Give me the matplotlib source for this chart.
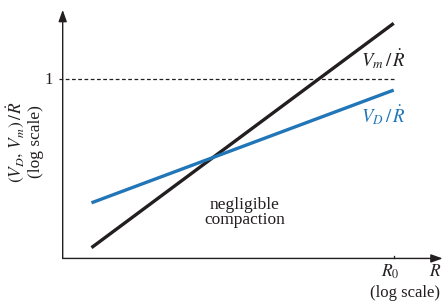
import matplotlib
matplotlib.use("Agg")
import matplotlib.pyplot as plt

plt.rcParams['font.family'] = ['Liberation Serif', 'DejaVu Serif']
plt.rcParams['mathtext.fontset'] = 'stix'

# log R (axis origin = 0, R0 = 1) and log(V/Rdot) (1 -> 0)
logR = [0.087, 1.0]
log_Vm = [-0.94, 0.31]
log_VD = [-0.69, -0.062]
ref_level = 0.0          # V/Rdot = 1
R0 = 1.0

BLACK = '#231f20'
BLUE = '#2176b8'

fig = plt.figure(figsize=(4.46, 3.06), dpi=100)
ax = fig.add_axes([0, 0, 1, 1])
ax.set_xlim(-0.1894, 1.158)
ax.set_ylim(-1.265, 0.440)
ax.axis('off')

# axes with arrows
ax.annotate('', xy=(1.148, -1.0), xytext=(0, -1.0),
            arrowprops=dict(arrowstyle='-|>,head_length=0.7,head_width=0.25', color=BLACK, lw=1.0, shrinkA=0, shrinkB=0))
ax.annotate('', xy=(0, 0.385), xytext=(0, -1.0),
            arrowprops=dict(arrowstyle='-|>,head_length=0.7,head_width=0.25', color=BLACK, lw=1.0, shrinkA=0, shrinkB=0))

# dashed reference
ax.plot([-0.012, R0], [ref_level, ref_level], ls=(0, (3, 2)), color=BLACK, lw=0.9)
# R0 tick
ax.plot([R0, R0], [-1.0, -0.985], color=BLACK, lw=0.9)

ax.plot(logR, log_Vm, color=BLACK, lw=2.4, solid_capstyle='butt')
ax.plot(logR, log_VD, color=BLUE, lw=2.4, solid_capstyle='butt')

ax.text(-0.03, -0.008, '1', ha='right', va='center', fontsize=12, color=BLACK)
ax.text(0.97, 0.112, r'$V_m\,/\,\dot{R}$', ha='center', va='center', fontsize=13.5, color=BLACK)
ax.text(0.97, -0.200, r'$V_D\,/\,\dot{R}$', ha='center', va='center', fontsize=13.5, color=BLUE)
ax.text(0.55, -0.745, 'negligible\ncompaction', ha='center', va='center', fontsize=12.5,
        color=BLACK, linespacing=0.95)
ax.text(0.99, -1.075, r'$R_0$', ha='center', va='center', fontsize=12.5, color=BLACK)
ax.text(1.125, -1.075, r'$R$', ha='center', va='center', fontsize=12.5, color=BLACK)
ax.text(1.035, -1.19, '(log scale)', ha='center', va='center', fontsize=12, color=BLACK)
ax.text(-0.115, -0.35, '$(V_D,\\, V_m)\\,/\\,\\dot{R}$\n(log scale)', ha='center', va='center',
        rotation=90, fontsize=12.5, color=BLACK, linespacing=1.05)

fig.savefig('out.png', dpi=100)
